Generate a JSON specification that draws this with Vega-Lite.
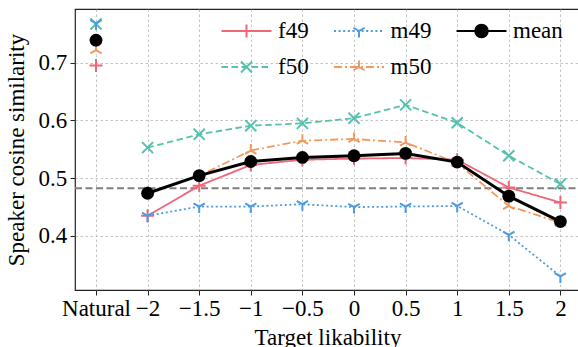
{
  "$schema": "https://vega.github.io/schema/vega-lite/v6.json",
  "width": 505,
  "height": 281,
  "autosize": "none",
  "padding": {"left": 75, "top": 9, "right": 0, "bottom": 57},
  "data": {"values": [
    {"s": "f49", "x": -2.5, "y": 0.695}, {"s": "f49", "x": -2, "y": 0.435}, {"s": "f49", "x": -1.5, "y": 0.487}, {"s": "f49", "x": -1, "y": 0.523}, {"s": "f49", "x": -0.5, "y": 0.532}, {"s": "f49", "x": 0, "y": 0.534}, {"s": "f49", "x": 0.5, "y": 0.535}, {"s": "f49", "x": 1, "y": 0.532}, {"s": "f49", "x": 1.5, "y": 0.484}, {"s": "f49", "x": 2, "y": 0.458},
    {"s": "f50", "x": -2.5, "y": 0.767}, {"s": "f50", "x": -2, "y": 0.553}, {"s": "f50", "x": -1.5, "y": 0.576}, {"s": "f50", "x": -1, "y": 0.591}, {"s": "f50", "x": -0.5, "y": 0.595}, {"s": "f50", "x": 0, "y": 0.604}, {"s": "f50", "x": 0.5, "y": 0.627}, {"s": "f50", "x": 1, "y": 0.596}, {"s": "f50", "x": 1.5, "y": 0.539}, {"s": "f50", "x": 2, "y": 0.49},
    {"s": "m49", "x": -2.5, "y": 0.768}, {"s": "m49", "x": -2, "y": 0.435}, {"s": "m49", "x": -1.5, "y": 0.451}, {"s": "m49", "x": -1, "y": 0.451}, {"s": "m49", "x": -0.5, "y": 0.455}, {"s": "m49", "x": 0, "y": 0.45}, {"s": "m49", "x": 0.5, "y": 0.451}, {"s": "m49", "x": 1, "y": 0.452}, {"s": "m49", "x": 1.5, "y": 0.402}, {"s": "m49", "x": 2, "y": 0.33},
    {"s": "m50", "x": -2.5, "y": 0.722}, {"s": "m50", "x": -2, "y": 0.475}, {"s": "m50", "x": -1.5, "y": 0.504}, {"s": "m50", "x": -1, "y": 0.548}, {"s": "m50", "x": -0.5, "y": 0.565}, {"s": "m50", "x": 0, "y": 0.568}, {"s": "m50", "x": 0.5, "y": 0.562}, {"s": "m50", "x": 1, "y": 0.526}, {"s": "m50", "x": 1.5, "y": 0.452}, {"s": "m50", "x": 2, "y": 0.423},
    {"s": "mean", "x": -2.5, "y": 0.739}, {"s": "mean", "x": -2, "y": 0.474}, {"s": "mean", "x": -1.5, "y": 0.5045}, {"s": "mean", "x": -1, "y": 0.529}, {"s": "mean", "x": -0.5, "y": 0.536}, {"s": "mean", "x": 0, "y": 0.539}, {"s": "mean", "x": 0.5, "y": 0.543}, {"s": "mean", "x": 1, "y": 0.528}, {"s": "mean", "x": 1.5, "y": 0.469}, {"s": "mean", "x": 2, "y": 0.425}
  ]},
  "encoding": {
    "x": {"field": "x", "type": "quantitative", "scale": {"domain": [-2.7035, 2.19], "nice": false, "zero": false},
      "axis": {"values": [-2.5, -2, -1.5, -1, -0.5, 0, 0.5, 1, 1.5, 2], "format": "~g", "labelExpr": "datum.value == -2.5 ? 'Natural' : datum.label", "labelOverlap": false, "labelFlush": false, "labelPadding": 2.8, "title": "Target likability", "titleX": 252.5, "titleY": 54, "titleBaseline": "alphabetic", "titleAlign": "center", "grid": true}},
    "y": {"field": "y", "type": "quantitative", "scale": {"domain": [0.3065, 0.793], "nice": false, "zero": false},
      "axis": {"values": [0.4, 0.5, 0.6, 0.7], "format": ".1f", "title": "Speaker cosine similarity", "titleX": -51.5, "titleY": 140.5, "titleAngle": 270, "titleAlign": "center", "titleBaseline": "alphabetic", "labelPadding": 3.3, "grid": true}}
  },
  "resolve": {"scale": {"color": "independent", "shape": "independent", "strokeWidth": "independent", "strokeDash": "independent"}},
  "layer": [
    {
      "transform": [{"filter": "datum.s == 'mean' && datum.x == 2"}],
      "mark": {"type": "rule", "color": "#7f7f7f", "strokeWidth": 2, "strokeDash": [7, 3.5]},
      "encoding": {
        "x": {"datum": -2.7035},
        "x2": {"datum": 2.19},
        "y": {"datum": 0.4827}
      }
    },
    {
      "transform": [{"filter": "datum.s != 'mean' && datum.x > -2.5"}],
      "mark": {"type": "line"},
      "encoding": {
        "color": {"field": "s", "type": "nominal", "scale": {"domain": ["f49", "f50", "m49", "m50", "mean"], "range": ["#EE6677", "#55C1AE", "#4C9BE0", "#F19A5F", "#000000"]},
          "legend": {"orient": "none", "legendX": 145.5, "legendY": 9, "columns": 3, "columnPadding": 23.5, "rowPadding": 10, "clipHeight": 26, "symbolType": "stroke", "symbolSize": 2500, "symbolStrokeWidth": 2, "labelOffset": 5.5, "title": null,
            "encode": {"symbols": {"enter": {"strokeWidth": {"signal": "datum.value == 'mean' ? 3 : 2"}}, "update": {"strokeWidth": {"signal": "datum.value == 'mean' ? 3 : 2"}}}}}},
        "strokeDash": {"field": "s", "type": "nominal", "scale": {"domain": ["f49", "f50", "m49", "m50", "mean"], "range": [[1, 0], [6.5, 3.5], [2, 2.6], [8, 3, 2, 3], [1, 0]]}},
        "strokeWidth": {"field": "s", "type": "nominal", "scale": {"domain": ["f49", "f50", "m49", "m50", "mean"], "range": [1.8, 1.8, 2.2, 1.8, 3]}}
      }
    },
    {
      "transform": [{"filter": "datum.s != 'mean'"}],
      "mark": {"type": "point", "filled": false, "opacity": 1, "size": 169},
      "encoding": {
        "color": {"field": "s", "type": "nominal", "scale": {"domain": ["f49", "f50", "m49", "m50"], "range": ["#EE6677", "#55C1AE", "#4C9BE0", "#F19A5F"]}, "legend": null},
        "shape": {"field": "s", "type": "nominal", "scale": {"domain": ["f49", "f50", "m49", "m50"], "range": ["M-1,0H1M0,-1V1", "M-0.85,-0.85L0.85,0.85M-0.85,0.85L0.85,-0.85", "M0,0V1M0,0L-0.87,-0.5M0,0L0.87,-0.5", "M0,0V-1M0,0L-0.87,0.5M0,0L0.87,0.5"]}, "legend": null},
        "strokeWidth": {"field": "s", "type": "nominal", "scale": {"domain": ["f49", "f50", "m49", "m50"], "range": [2, 2, 2, 2]}, "legend": null}
      }
    },
    {
      "transform": [{"filter": "datum.s == 'mean' && datum.x > -2.5"}],
      "mark": {"type": "line", "color": "#000000", "strokeWidth": 3}
    },
    {
      "transform": [{"filter": "datum.s == 'mean'"}],
      "mark": {"type": "point", "shape": "circle", "filled": true, "color": "#000000", "size": 165, "opacity": 1}
    },
    {
      "transform": [{"filter": "false"}],
      "mark": {"type": "point", "filled": false, "opacity": 1},
      "encoding": {
        "color": {"field": "s", "type": "nominal", "scale": {"domain": ["f49", "f50", "m49", "m50", "mean"], "range": ["#EE6677", "#55C1AE", "#4C9BE0", "#F19A5F", "#000000"]},
          "legend": {"orient": "none", "legendX": 145.5, "legendY": 9, "columns": 3, "columnPadding": 23.5, "rowPadding": 10, "clipHeight": 26, "symbolSize": 2500, "symbolStrokeWidth": 2, "labelOffset": 5.5, "labelOpacity": 0, "title": null}},
        "shape": {"field": "s", "type": "nominal", "scale": {"domain": ["f49", "f50", "m49", "m50", "mean"], "range": [
          "M-1,0M1,0M-0.26,0H0.26M0,-0.26V0.26",
          "M-1,0M1,0M-0.221,-0.221L0.221,0.221M-0.221,0.221L0.221,-0.221",
          "M-1,0M1,0M0,0V0.26M0,0L-0.226,-0.13M0,0L0.226,-0.13",
          "M-1,0M1,0M0,0V-0.26M0,0L-0.226,0.13M0,0L0.226,0.13",
          "M-1,0M1,0M-0.25,0A0.25,0.25,0,1,0,0.25,0A0.25,0.25,0,1,0,-0.25,0ZM-0.18,0A0.18,0.18,0,1,0,0.18,0A0.18,0.18,0,1,0,-0.18,0ZM-0.11,0A0.11,0.11,0,1,0,0.11,0A0.11,0.11,0,1,0,-0.11,0ZM-0.04,0A0.04,0.04,0,1,0,0.04,0A0.04,0.04,0,1,0,-0.04,0Z"]}}
      }
    }
  ],
  "config": {
    "view": {"stroke": "#222222", "strokeWidth": 1.2},
    "font": "Liberation Serif",
    "axis": {"labelFont": "Liberation Serif", "titleFont": "Liberation Serif", "labelFontSize": 23, "titleFontSize": 23, "titleFontWeight": "normal", "labelColor": "#000000", "titleColor": "#000000", "tickColor": "#222222", "tickWidth": 1, "tickSize": 5, "gridColor": "#b5b5b5", "gridDash": [2.5, 2.5], "gridWidth": 0.8, "domain": false},
    "legend": {"labelFont": "Liberation Serif", "labelFontSize": 23, "labelColor": "#000000", "padding": 0, "labelLimit": 0}
  }
}
